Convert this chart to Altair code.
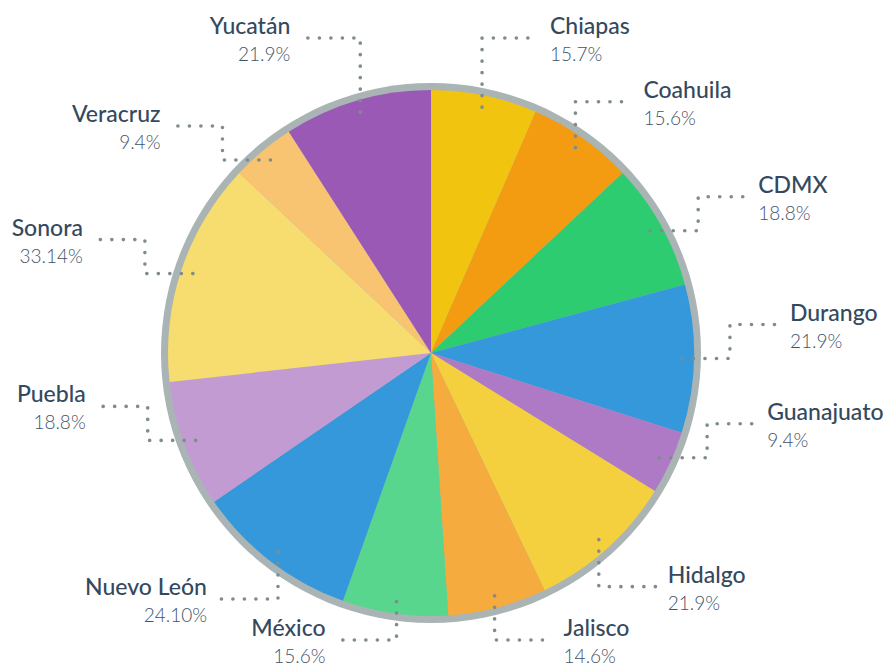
import math
import altair as alt
import pandas as pd

# ---------------- data ----------------
categories = ["Chiapas", "Coahuila", "CDMX", "Durango", "Guanajuato", "Hidalgo",
              "Jalisco", "México", "Nuevo León", "Puebla", "Sonora", "Veracruz", "Yucatán"]
values = [15.7, 15.6, 18.8, 21.9, 9.4, 21.9, 14.6, 15.6, 24.10, 18.8, 33.14, 9.4, 21.9]
value_labels = ["15.7%", "15.6%", "18.8%", "21.9%", "9.4%", "21.9%", "14.6%",
                "15.6%", "24.10%", "18.8%", "33.14%", "9.4%", "21.9%"]
colors = ["#f1c40f", "#f39c12", "#2ecc71", "#3498db", "#af7ac5", "#f4d03f",
          "#f5ab3d", "#58d68d", "#3498db", "#c39bd3", "#f7dc6f", "#f8c471", "#9b59b6"]

# ---------------- layout ----------------
W, H = 879, 658
CX, CY = 423, 345
R_PIE = 263
R_RING = 270
R_ANCHOR = 251
TOP_Y = 30
BOTTOM_Y = 632
leader_kind = {"Chiapas": "top", "Coahuila": "up", "CDMX": "side", "Durango": "side",
               "Guanajuato": "side", "Hidalgo": "down", "Jalisco": "down", "México": "down",
               "Nuevo León": "down", "Puebla": "side", "Sonora": "side",
               "Veracruz": "side", "Yucatán": "top"}

total = sum(values)
pie_rows, line_rows, label_rows = [], [], []
cum = 0.0
for i, (c, v, vl) in enumerate(zip(categories, values, value_labels)):
    pie_rows.append({"category": c, "value": v, "idx": i})
    mid = (cum + v / 2) / total * 2 * math.pi
    cum += v
    ax = CX + R_ANCHOR * math.sin(mid)
    ay = CY - R_ANCHOR * math.cos(mid)
    s = 1 if math.sin(mid) > 0 else -1
    k = leader_kind[c]
    if k == "top":
        pts = [(ax, ay), (ax, TOP_Y), (ax + s * 56, TOP_Y)]
    elif k == "up":
        pts = [(ax, ay), (ax, ay - 46), (ax + s * 56, ay - 46)]
    elif k == "side":
        pts = [(ax, ay), (ax + s * 48, ay), (ax + s * 48, ay - 34), (ax + s * 96, ay - 34)]
    else:
        yb = min(ay + 47, BOTTOM_Y)
        pts = [(ax, ay), (ax, yb), (ax + s * 57, yb)]
    for j, (px, py) in enumerate(pts):
        line_rows.append({"category": c, "seq": j, "x": px, "y": py})
    ex, ey = pts[-1]
    side = "right" if s > 0 else "left"
    tx = ex + 12 if s > 0 else ex - 14
    label_rows.append({"category": c, "side": side, "x": tx,
                       "yn": ey - 4, "yv": ey + 23, "vlabel": vl})

pie_df = pd.DataFrame(pie_rows)
line_df = pd.DataFrame(line_rows)
label_df = pd.DataFrame(label_rows)

xs = alt.Scale(domain=[0, W], range=[0, W], nice=False, zero=False)
ys = alt.Scale(domain=[0, H], range=[0, H], nice=False, zero=False)

ring = alt.Chart(pd.DataFrame({"k": [0]})).mark_arc(
    theta=0, theta2=2 * math.pi, outerRadius=R_RING, innerRadius=0, color="#aab4b5"
).encode(x=alt.value(CX), y=alt.value(CY))

pie = alt.Chart(pie_df).mark_arc(outerRadius=R_PIE).encode(
    theta=alt.Theta("value:Q", stack=True),
    order=alt.Order("idx:Q", sort="ascending"),
    color=alt.Color("category:N", scale=alt.Scale(domain=categories, range=colors), legend=None),
    x=alt.value(CX), y=alt.value(CY),
)

leaders = alt.Chart(line_df).mark_line(
    strokeDash=[0.1, 11.4], strokeCap="round", strokeWidth=3.6, color="#7f8c8d"
).encode(
    x=alt.X("x:Q", scale=xs, axis=None),
    y=alt.Y("y:Q", scale=ys, axis=None),
    detail="category:N",
    order="seq:Q",
)

FONT = "Lato"
NAME_COLOR = "#34495e"
VAL_COLOR = "#3f5469"


def text_layer(field, yfield, side, size, weight, color):
    # labels on the right of the pie are left-aligned, and vice versa
    return alt.Chart(label_df).transform_filter(
        alt.datum.side == side
    ).mark_text(
        align="left" if side == "right" else "right", baseline="alphabetic",
        font=FONT, fontSize=size, fontWeight=weight, color=color
    ).encode(
        x=alt.X("x:Q", scale=xs, axis=None),
        y=alt.Y(f"{yfield}:Q", scale=ys, axis=None),
        text=f"{field}:N",
    )


texts = [
    text_layer("category", "yn", "left", 23, 500, NAME_COLOR),
    text_layer("category", "yn", "right", 23, 500, NAME_COLOR),
    text_layer("vlabel", "yv", "left", 19, 300, VAL_COLOR),
    text_layer("vlabel", "yv", "right", 19, 300, VAL_COLOR),
]

chart = alt.layer(ring, pie, leaders, *texts).properties(
    width=W, height=H, padding=0, autosize="none"
).configure_view(stroke=None)

chart.save("out.html", embed_options={"renderer": "svg", "actions": False})
